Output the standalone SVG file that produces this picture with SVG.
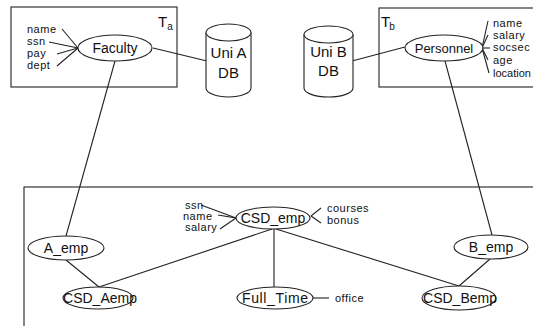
<svg xmlns="http://www.w3.org/2000/svg" width="533" height="326" viewBox="0 0 533 326">
  <style>
    .box { fill: none; stroke: #222; stroke-width: 1.1; }
    .ent { fill: #fff; stroke: #222; stroke-width: 1.1; }
    .db { fill: #fff; stroke: #222; stroke-width: 1.1; }
    .ln { stroke: #222; stroke-width: 1.1; fill: none; }
    .lbl { font-family: "Liberation Sans", Arial, Helvetica, sans-serif; font-size: 14px; fill: #111; text-anchor: middle; }
    .dbl { font-family: "Liberation Sans", Arial, Helvetica, sans-serif; font-size: 15px; fill: #111; text-anchor: middle; }
    .att { font-family: "Liberation Sans", Arial, Helvetica, sans-serif; font-size: 11px; letter-spacing: 0.5px; fill: #111; }
    .tl { font-family: "Liberation Sans", Arial, Helvetica, sans-serif; font-size: 15px; fill: #111; }
    .sub { font-size: 10px; }
  </style>

  <!-- schema frames -->
  <g id="frame-a">
    <rect class="box" x="11" y="7" width="166" height="80"/>
    <text class="tl" x="158" y="27">T<tspan class="sub" dy="3">a</tspan></text>
  </g>
  <g id="frame-b">
    <rect class="box" x="379" y="8" width="200" height="79"/>
    <text class="tl" x="381" y="27">T<tspan class="sub" dy="3" dx="-1">b</tspan></text>
  </g>
  <g id="frame-global">
    <rect class="box" x="24" y="187" width="520" height="150"/>
  </g>

  <!-- connectors -->
  <g id="connectors">
    <line class="ln" x1="153" y1="48" x2="207" y2="61"/>
    <line class="ln" x1="115" y1="61" x2="66" y2="236"/>
    <line class="ln" x1="352" y1="61" x2="405" y2="47"/>
    <line class="ln" x1="445" y1="61" x2="492" y2="235"/>
    <line class="ln" x1="66" y1="260" x2="99" y2="287"/>
    <line class="ln" x1="272" y1="229" x2="99" y2="287"/>
    <line class="ln" x1="274" y1="229" x2="274" y2="287"/>
    <line class="ln" x1="276" y1="229" x2="459" y2="286"/>
    <line class="ln" x1="490" y1="259" x2="459" y2="286"/>
    <line class="ln" x1="313" y1="298" x2="329" y2="298"/>
    <!-- attribute ticks -->
    <line class="ln" x1="62" y1="29" x2="78" y2="48"/>
    <line class="ln" x1="49" y1="42" x2="78" y2="48"/>
    <line class="ln" x1="57" y1="54" x2="78" y2="48"/>
    <line class="ln" x1="57" y1="66" x2="78" y2="48"/>
    <line class="ln" x1="488" y1="21" x2="482" y2="48"/>
    <line class="ln" x1="488" y1="35" x2="482" y2="48"/>
    <line class="ln" x1="490" y1="48" x2="482" y2="48"/>
    <line class="ln" x1="488" y1="60" x2="482" y2="48"/>
    <line class="ln" x1="489" y1="73" x2="482" y2="48"/>
    <line class="ln" x1="201" y1="205" x2="236" y2="218"/>
    <line class="ln" x1="218" y1="215" x2="236" y2="218"/>
    <line class="ln" x1="220" y1="229" x2="236" y2="218"/>
    <line class="ln" x1="321" y1="208" x2="311" y2="216"/>
    <line class="ln" x1="321" y1="223" x2="311" y2="216"/>
  </g>

  <!-- databases -->
  <g id="uni-a-db">
    <path class="db" d="M206,32.5 L206,88 A22.5,9 0 0 0 251,88 L251,32.5"/>
    <ellipse class="db" cx="228.5" cy="32.5" rx="22.5" ry="8.5"/>
    <text class="dbl" x="228.5" y="58">Uni A</text>
    <text class="dbl" x="228.5" y="78">DB</text>
  </g>
  <g id="uni-b-db">
    <path class="db" d="M304,34.5 L304,88 A24.5,9 0 0 0 353,88 L353,34.5"/>
    <ellipse class="db" cx="328.5" cy="34.5" rx="24.5" ry="8.5"/>
    <text class="dbl" x="328.5" y="57">Uni B</text>
    <text class="dbl" x="328.5" y="76">DB</text>
  </g>

  <!-- entities -->
  <g id="faculty">
    <ellipse class="ent" cx="115" cy="48" rx="37" ry="13"/>
    <text class="lbl" x="115" y="53">Faculty</text>
    <text class="att" x="27" y="33">name</text>
    <text class="att" x="27" y="45">ssn</text>
    <text class="att" x="27" y="57">pay</text>
    <text class="att" x="27" y="69">dept</text>
  </g>
  <g id="personnel">
    <ellipse class="ent" cx="444" cy="48" rx="39" ry="13"/>
    <text class="lbl" x="444" y="53" style="font-size:13px">Personnel</text>
    <text class="att" x="493" y="27">name</text>
    <text class="att" x="493" y="39">salary</text>
    <text class="att" x="493" y="51">socsec</text>
    <text class="att" x="493" y="64">age</text>
    <text class="att" x="493" y="77" style="letter-spacing:0">location</text>
  </g>
  <g id="csd-emp">
    <ellipse class="ent" cx="273" cy="218" rx="37" ry="11"/>
    <text class="lbl" x="273" y="223">CSD_emp</text>
    <text class="att" x="185" y="209">ssn</text>
    <text class="att" x="183" y="220">name</text>
    <text class="att" x="185" y="231">salary</text>
    <text class="att" x="327" y="212">courses</text>
    <text class="att" x="327" y="224">bonus</text>
  </g>
  <g id="a-emp">
    <ellipse class="ent" cx="66" cy="248" rx="38" ry="12"/>
    <text class="lbl" x="66" y="253">A_emp</text>
  </g>
  <g id="b-emp">
    <ellipse class="ent" cx="491" cy="247" rx="37" ry="12"/>
    <text class="lbl" x="491" y="252">B_emp</text>
  </g>
  <g id="csd-aemp">
    <ellipse class="ent" cx="98" cy="298" rx="35" ry="11"/>
    <text class="lbl" x="100" y="303">CSD_Aemp</text>
  </g>
  <g id="full-time">
    <ellipse class="ent" cx="275" cy="298" rx="38" ry="11"/>
    <text class="lbl" x="275" y="303" textLength="66" lengthAdjust="spacing">Full_Time</text>
    <text class="att" x="335" y="302">office</text>
  </g>
  <g id="csd-bemp">
    <ellipse class="ent" cx="459" cy="298" rx="37" ry="12"/>
    <text class="lbl" x="460" y="303">CSD_Bemp</text>
  </g>
</svg>
